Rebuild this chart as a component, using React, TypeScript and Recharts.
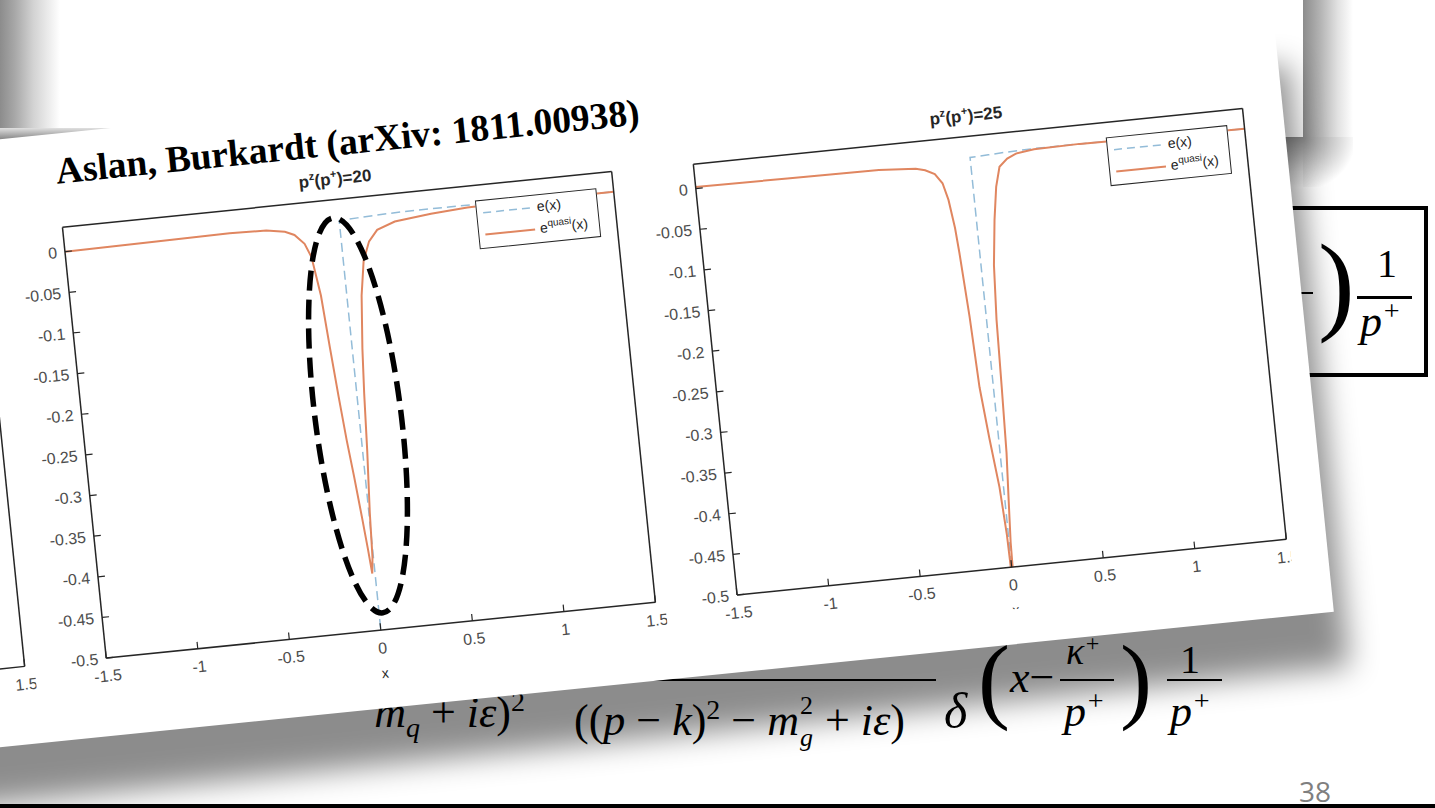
import React from 'react';
import { LineChart, Line, XAxis, YAxis } from 'recharts';

// axis ticks shared by all three MATLAB panels
const xTicks = [-1.5, -1, -0.5, 0, 0.5, 1, 1.5];
const yTicks = [0, -0.05, -0.1, -0.15, -0.2, -0.25, -0.3, -0.35, -0.4, -0.45, -0.5];

// e(x): delta spike at x = 0, then a small positive tail
const eX = [0, 0, 0.1, 0.2, 0.35, 0.6, 1.0, 1.5];
const eY = [-0.6, 0.004, 0.005, 0.006, 0.007, 0.007, 0.006, 0.005];

// e^quasi(x), p^z = 20
const quasi20X = [-1.5, -1.0, -0.6, -0.4, -0.3, -0.25, -0.2, -0.17, -0.14, -0.12, -0.1, -0.08, -0.06, -0.04, -0.025, -0.015, -0.005, 0.005, 0.025, 0.04, 0.055, 0.08, 0.11, 0.15, 0.2, 0.3, 0.5, 0.7, 1.0, 1.5];
const quasi20Y = [0, 0.001, 0.002, 0.001, -0.003, -0.008, -0.02, -0.037, -0.085, -0.15, -0.21, -0.265, -0.31, -0.36, -0.4, -0.43, -0.41, -0.355, -0.28, -0.21, -0.155, -0.09, -0.048, -0.025, -0.012, -0.004, 0.001, 0.004, 0.005, 0.005];

// e^quasi(x), p^z = 25
const quasi25X = [-1.5, -1.0, -0.5, -0.3, -0.25, -0.2, -0.163, -0.14, -0.12, -0.11, -0.09, -0.075, -0.05, -0.022, -0.008, 0, 0.008, 0.02, 0.035, 0.045, 0.054, 0.07, 0.098, 0.125, 0.154, 0.2, 0.25, 0.35, 0.6, 1.0, 1.5];
const quasi25Y = [0.002, 0.001, 0, -0.003, -0.006, -0.012, -0.024, -0.045, -0.08, -0.111, -0.19, -0.277, -0.34, -0.401, -0.46, -0.56, -0.47, -0.42, -0.36, -0.28, -0.197, -0.13, -0.075, -0.035, -0.011, -0.002, 0.003, 0.006, 0.007, 0.006, 0.005];

const zip = (xs: number[], ys: number[]) => xs.map((x, i) => ({ x, y: ys[i] }));

const ORANGE = '#e08660';
const BLUE = '#93bcd8';
const AXIS = '#262626';
const TICK = '#4d4d4d';
const SANS = '"Liberation Sans", Arial, sans-serif';
const SERIF = '"Liberation Serif", "Times New Roman", serif';

const PLOT_W = 552;
const PLOT_H = 433;
const LEFT = 60;
const TOP = 10;
const RIGHT = 10;
const BOTTOM = 60;

type Series = { data: { x: number; y: number }[]; color: string; dashed?: boolean };

function Legend() {
  return (
    <div
      style={{
        position: 'absolute',
        left: LEFT + 413,
        top: TOP + 15,
        width: 122,
        height: 49,
        boxSizing: 'border-box',
        border: `1.5px solid ${AXIS}`,
        background: '#fff',
        fontFamily: SANS,
        fontSize: 14,
        color: AXIS,
      }}
    >
      <svg width={122} height={49} style={{ position: 'absolute', left: 0, top: 0 }}>
        <line x1={6} x2={56} y1={12} y2={12} stroke={BLUE} strokeWidth={1.5} strokeDasharray="8 5" />
        <line x1={6} x2={56} y1={34} y2={34} stroke={ORANGE} strokeWidth={2} />
      </svg>
      <div style={{ position: 'absolute', left: 60, top: 3, lineHeight: '16px' }}>e(x)</div>
      <div style={{ position: 'absolute', left: 61, top: 25, lineHeight: '16px' }}>
        e<span style={{ fontSize: 10, position: 'relative', top: -6 }}>quasi</span>(x)
      </div>
    </div>
  );
}

function MatlabAxes({
  series,
  title,
  legend,
  clipW,
  clipH,
}: {
  series: Series[];
  title?: string;
  legend?: boolean;
  clipW?: number;
  clipH?: number;
}) {
  const cw = LEFT + PLOT_W + RIGHT;
  const ch = TOP + PLOT_H + BOTTOM;
  return (
    <div style={{ position: 'relative', width: cw, height: ch }}>
      {title && (
        <div
          style={{
            position: 'absolute',
            left: LEFT + PLOT_W / 2 - 100,
            top: -19,
            width: 200,
            textAlign: 'center',
            fontFamily: SANS,
            fontWeight: 'bold',
            fontSize: 17,
            lineHeight: '17px',
            color: AXIS,
          }}
        >
          p<span style={{ fontSize: 11, position: 'relative', top: -7 }}>z</span>(p
          <span style={{ fontSize: 11, position: 'relative', top: -7 }}>+</span>)={title}
        </div>
      )}
      <div style={{ width: clipW ?? cw, height: clipH ?? ch, overflow: 'hidden', position: 'relative' }}>
        <LineChart width={cw} height={ch} margin={{ top: 0, right: 0, bottom: 0, left: 0 }}>
          <XAxis
            xAxisId="b"
            type="number"
            dataKey="x"
            domain={[-1.5, 1.5]}
            ticks={xTicks}
            allowDataOverflow
            height={BOTTOM}
            axisLine={{ stroke: AXIS, strokeWidth: 1.5 }}
            tickLine={{ stroke: AXIS, strokeWidth: 1.2 }}
            tickSize={-7}
            tickMargin={19}
            tick={{ fill: TICK, fontSize: 16, fontFamily: SANS }}
            label={{ value: 'x', position: 'insideBottom', offset: 12, fill: AXIS, fontSize: 14, fontFamily: SANS }}
          />
          <XAxis
            xAxisId="t"
            orientation="top"
            type="number"
            domain={[-1.5, 1.5]}
            ticks={xTicks}
            height={TOP}
            axisLine={{ stroke: AXIS, strokeWidth: 1.5 }}
            tickLine={{ stroke: AXIS, strokeWidth: 1.2 }}
            tickSize={-7}
            tickFormatter={() => ''}
          />
          <YAxis
            yAxisId="l"
            type="number"
            domain={[-0.5, 0.03]}
            ticks={yTicks}
            allowDataOverflow
            width={LEFT}
            axisLine={{ stroke: AXIS, strokeWidth: 1.5 }}
            tickLine={{ stroke: AXIS, strokeWidth: 1.2 }}
            tickSize={-7}
            tickMargin={15}
            tick={{ fill: TICK, fontSize: 16, fontFamily: SANS }}
          />
          <YAxis
            yAxisId="r"
            orientation="right"
            type="number"
            domain={[-0.5, 0.03]}
            ticks={yTicks}
            width={RIGHT}
            axisLine={{ stroke: AXIS, strokeWidth: 1.5 }}
            tickLine={{ stroke: AXIS, strokeWidth: 1.2 }}
            tickSize={-7}
            tickFormatter={() => ''}
          />
          {series.map((s, i) => (
            <Line
              key={i}
              xAxisId="b"
              yAxisId="l"
              data={s.data}
              dataKey="y"
              type="linear"
              dot={false}
              activeDot={false}
              stroke={s.color}
              strokeWidth={s.dashed ? 1.5 : 2}
              strokeDasharray={s.dashed ? '9 5' : undefined}
              isAnimationActive={false}
            />
          ))}
        </LineChart>
        {legend && <Legend />}
      </div>
    </div>
  );
}

const abs = (style: React.CSSProperties): React.CSSProperties => ({ position: 'absolute', ...style });
const sub = (t: string, size = 28, top = 10) => (
  <span style={{ fontSize: size, position: 'relative', top, fontStyle: 'italic' }}>{t}</span>
);
const sup = (t: string, size = 28, top = -16) => (
  <span style={{ fontSize: size, position: 'relative', top }}>{t}</span>
);
// superscript stacked over a subscript, as in m_g^2
const supSub = (hi: string, lo: string) => (
  <span style={{ position: 'relative', display: 'inline-block', width: 15, height: 44 }}>
    <span style={{ position: 'absolute', left: 1, top: 2, fontSize: 26, lineHeight: '26px' }}>{hi}</span>
    <i style={{ position: 'absolute', left: 1, top: 34, fontSize: 26, lineHeight: '26px' }}>{lo}</i>
  </span>
);

function Background() {
  const math: React.CSSProperties = { fontFamily: SERIF, color: '#000', whiteSpace: 'nowrap' };
  return (
    <>
      {/* header box bevel */}
      <div style={abs({ left: 0, top: 0, width: 60, height: 140, background: 'linear-gradient(to right, #8c8c8c, #a8a8a8 25%, #d2d2d2 55%, #ffffff)' })} />
      <div style={abs({ left: 0, top: 128, width: 300, height: 18, background: 'linear-gradient(to bottom, #e0e0e0, #8a8a8a 60%, #777)' })} />
      <div style={abs({ left: 1303, top: 0, width: 50, height: 137, background: 'linear-gradient(to right, #8c8c8c, #b4b4b4 35%, #e2e2e2 70%, #ffffff)' })} />
      <div style={abs({ left: 1250, top: 137, width: 53, height: 50, background: 'linear-gradient(to bottom, #8c8c8c, #b4b4b4 35%, #e2e2e2 70%, #ffffff)' })} />
      <div style={abs({ left: 1303, top: 137, width: 50, height: 50, background: 'radial-gradient(circle at top left, #8c8c8c, #c0c0c0 35%, #ffffff 75%)' })} />

      {/* boxed formula on the right */}
      <div style={abs({ left: 1240, top: 206, width: 188, height: 171, boxSizing: 'border-box', border: '4px solid #000', background: '#fff' })} />
      <div style={abs({ ...math, left: 1262, top: 222, fontSize: 34, lineHeight: '34px', fontStyle: 'italic' })}>
        k{sup('+', 22, -12)}
      </div>
      <div style={abs({ left: 1258, top: 292, width: 55, height: 2, background: '#000' })} />
      <div style={abs({ ...math, left: 1318, top: 228, fontSize: 110, lineHeight: '110px' })}>)</div>
      <div style={abs({ ...math, left: 1377, top: 244, fontSize: 40, lineHeight: '40px' })}>1</div>
      <div style={abs({ left: 1357, top: 296, width: 55, height: 2.5, background: '#000' })} />
      <div style={abs({ ...math, left: 1360, top: 300, fontSize: 44, lineHeight: '44px', fontStyle: 'italic' })}>
        p{sup('+', 28, -16)}
      </div>

      {/* formula at the bottom */}
      <div style={abs({ left: 60, top: 679, width: 876, height: 2, background: '#000' })} />
      <div style={abs({ ...math, right: 910, top: 691, fontSize: 44, lineHeight: '44px' })}>
        <i>m</i>{sub('q')} + <i>iε</i>){sup('2')}
      </div>
      <div style={abs({ ...math, left: 574, top: 691, fontSize: 44, lineHeight: '44px' })}>
        ((<i>p</i> − <i>k</i>){sup('2')} − <i>m</i>{supSub('2', 'g')} + <i>iε</i>)
      </div>
      <div style={abs({ ...math, left: 944, top: 686, fontSize: 50, lineHeight: '50px', fontStyle: 'italic' })}>δ</div>
      <div style={abs({ ...math, left: 978, top: 631, fontSize: 96, lineHeight: '96px' })}>(</div>
      <div style={abs({ ...math, left: 1010, top: 656, fontSize: 44, lineHeight: '44px' })}>
        <i>x</i>−
      </div>
      <div style={abs({ ...math, left: 1066, top: 632, fontSize: 38, lineHeight: '38px', fontStyle: 'italic' })}>
        κ{sup('+', 24, -13)}
      </div>
      <div style={abs({ left: 1060, top: 679, width: 54, height: 2, background: '#000' })} />
      <div style={abs({ ...math, left: 1064, top: 690, fontSize: 44, lineHeight: '44px', fontStyle: 'italic' })}>
        p{sup('+', 28, -16)}
      </div>
      <div style={abs({ ...math, left: 1120, top: 631, fontSize: 96, lineHeight: '96px' })}>)</div>
      <div style={abs({ ...math, left: 1180, top: 640, fontSize: 40, lineHeight: '40px' })}>1</div>
      <div style={abs({ left: 1167, top: 679, width: 55, height: 2, background: '#000' })} />
      <div style={abs({ ...math, left: 1170, top: 690, fontSize: 44, lineHeight: '44px', fontStyle: 'italic' })}>
        p{sup('+', 28, -16)}
      </div>

      <div style={abs({ left: 1299, top: 777, fontFamily: '"Open Sans", sans-serif', fontSize: 28, lineHeight: '28px', color: '#7f7f7f' })}>38</div>
      <div style={abs({ left: 0, top: 804, width: 1435, height: 4, background: '#000' })} />
    </>
  );
}

export default function App() {
  const eSeries: Series = { data: zip(eX, eY), color: BLUE, dashed: true };
  return (
    <div style={{ position: 'fixed', left: 0, top: 0, width: 1435, height: 808, overflow: 'hidden', background: '#fff' }}>
      <Background />
      <div
        style={{
          position: 'absolute',
          left: -146,
          top: 154,
          width: 1426,
          height: 605,
          background: '#fff',
          transformOrigin: '0 0',
          transform: 'rotate(-5.8deg)',
          boxShadow: '10px 56px 30px rgba(0,0,0,0.45)',
        }}
      >
        <div
          style={abs({
            left: 199,
            top: 19,
            fontFamily: SERIF,
            fontWeight: 'bold',
            fontSize: 37.5,
            lineHeight: '37.5px',
            color: '#000',
            whiteSpace: 'nowrap',
          })}
        >
          Aslan, Burkardt (arXiv: 1811.00938)
        </div>
        <div style={abs({ left: -494, top: 84 })}>
          <MatlabAxes series={[]} />
        </div>
        <div style={abs({ left: 140, top: 84 })}>
          <MatlabAxes
            title="20"
            legend
            series={[eSeries, { data: zip(quasi20X, quasi20Y), color: ORANGE }]}
          />
        </div>
        <div style={abs({ left: 774, top: 85 })}>
          <MatlabAxes
            title="25"
            legend
            clipW={LEFT + PLOT_W + 3}
            clipH={TOP + PLOT_H + 42}
            series={[eSeries, { data: zip(quasi25X, quasi25Y), color: ORANGE }]}
          />
        </div>
        <svg width={1426} height={605} style={{ position: 'absolute', left: 0, top: 0, overflow: 'visible', pointerEvents: 'none' }}>
          <ellipse
            cx={475}
            cy={311}
            rx={43}
            ry={199}
            fill="none"
            stroke="#000"
            strokeWidth={5.5}
            strokeDasharray="20 9"
            transform="rotate(-1.4 475 311)"
          />
        </svg>
      </div>
    </div>
  );
}
